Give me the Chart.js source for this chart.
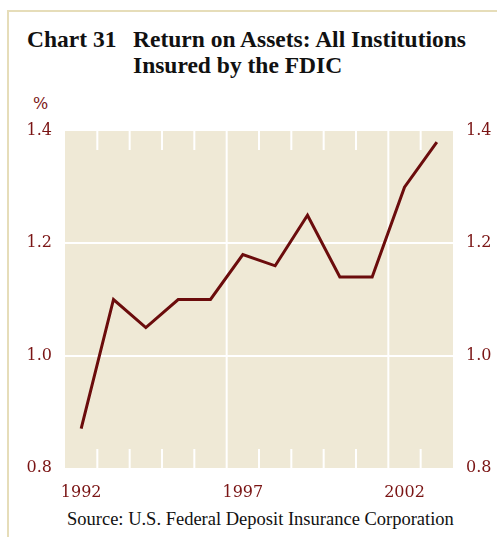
<!DOCTYPE html>
<html>
<head>
<meta charset="utf-8">
<script src="https://cdn.jsdelivr.net/npm/chart.js@4"></script>
<style>
  body { margin: 0; background: #fff; }
  #wrap { position: relative; width: 497px; height: 537px; overflow: hidden; }
  #frameTop { position: absolute; left: 7px; top: 10px; width: 500px; height: 2px; background: #e6ddb9; }
  #frameLeft { position: absolute; left: 7px; top: 10px; width: 2px; height: 540px; background: #e6ddb9; }
  .t { position: absolute; white-space: nowrap; }
  .title { font-family: "Liberation Serif", serif; font-weight: bold; font-size: 23.5px; line-height: 26px; color: #111; }
  #pct { left: 33px; top: 94px; font-family: "DejaVu Serif", serif; font-size: 16px; line-height: 20px; color: #7a1414; }
  #source { left: 67px; top: 509px; font-family: "Liberation Serif", serif; font-size: 18.5px; line-height: 20px; color: #111; }
  canvas { position: absolute; left: 0; top: 0; }
</style>
</head>
<body>
<div id="wrap">
  <div id="frameTop"></div>
  <div id="frameLeft"></div>
  <div class="t title" style="left:27px; top:26px;">Chart 31</div>
  <div class="t title" style="left:133px; top:26px;">Return on Assets: All Institutions<br>Insured by the FDIC</div>
  <div class="t" id="pct">%</div>
  <div class="t" id="source">Source: U.S. Federal Deposit Insurance Corporation</div>
  <canvas id="grafico" width="497" height="537"></canvas>
</div>
<script>
const anos = ['1992', '1993', '1994', '1995', '1996', '1997', '1998', '1999', '2000', '2001', '2002', '2003'];
const roa = [0.87, 1.10, 1.05, 1.10, 1.10, 1.18, 1.16, 1.25, 1.14, 1.14, 1.30, 1.38];
const rotulosX = ['1992', '1997', '2002'];
const marcasY = [0.8, 1.0, 1.2, 1.4];

const vermelho = '#7a1414';
const bege = '#efe9d6';

// fundo bege + linhas brancas verticais entre os anos
const fundo = {
    id: 'fundo',
    beforeDraw(chart) {
        const a = chart.chartArea;
        const ctx = chart.ctx;
        ctx.save();
        ctx.fillStyle = bege;
        ctx.fillRect(a.left, a.top, a.right - a.left, a.bottom - a.top);
        ctx.restore();
    },
    beforeDatasetsDraw(chart) {
        const a = chart.chartArea;
        const x = chart.scales.x;
        const ctx = chart.ctx;
        ctx.save();
        ctx.strokeStyle = '#fff';
        ctx.lineWidth = 2;
        for (let i = 1; i < anos.length; i++) {
            const px = (x.getPixelForValue(i - 1) + x.getPixelForValue(i)) / 2;
            ctx.beginPath();
            if (rotulosX.includes(anos[i])) {
                ctx.moveTo(px, a.top);
                ctx.lineTo(px, a.bottom);
            } else {
                ctx.moveTo(px, a.top);
                ctx.lineTo(px, a.top + 19);
                ctx.moveTo(px, a.bottom - 19);
                ctx.lineTo(px, a.bottom);
            }
            ctx.stroke();
        }
        ctx.restore();
    }
};

const fonte = { family: 'DejaVu Serif', size: 16 };

function eixoY(pos) {
    return {
        type: 'linear',
        position: pos,
        min: 0.8,
        max: 1.4,
        afterBuildTicks(scale) {
            scale.ticks = marcasY.map(v => ({ value: v }));
        },
        afterFit(scale) {
            scale.width = pos === 'left' ? 65 : 44;
        },
        border: { display: false },
        grid: {
            display: pos === 'left',
            drawTicks: false,
            lineWidth: 2,
            color: ctx => (ctx.tick && (ctx.tick.value === 1.0 || ctx.tick.value === 1.2)) ? '#fff' : 'rgba(0,0,0,0)'
        },
        ticks: {
            padding: 13,
            color: vermelho,
            font: fonte,
            callback: v => v.toFixed(1)
        }
    };
}

const config = {
    type: 'line',
    data: {
        labels: anos,
        datasets: [{
            label: 'ROA',
            data: roa,
            borderColor: '#6b0c0c',
            borderWidth: 3,
            pointRadius: 0,
            tension: 0,
            borderJoinStyle: 'miter'
        }]
    },
    options: {
        responsive: false,
        animation: false,
        layout: { padding: { top: 131, left: 0, right: 0, bottom: 0 } },
        plugins: {
            legend: { display: false },
            tooltip: { enabled: false }
        },
        scales: {
            x: {
                offset: true,
                afterFit(scale) { scale.height = 69; },
                border: { display: false },
                grid: { display: false, drawTicks: false },
                ticks: {
                    padding: 15,
                    autoSkip: false,
                    maxRotation: 0,
                    color: vermelho,
                    font: fonte,
                    callback: function (v, i) {
                        const l = anos[i];
                        return rotulosX.includes(l) ? l : '';
                    }
                }
            },
            y: eixoY('left'),
            y2: eixoY('right')
        }
    },
    plugins: [fundo]
};

const grafico = new Chart(document.getElementById('grafico'), config);
</script>
</body>
</html>
